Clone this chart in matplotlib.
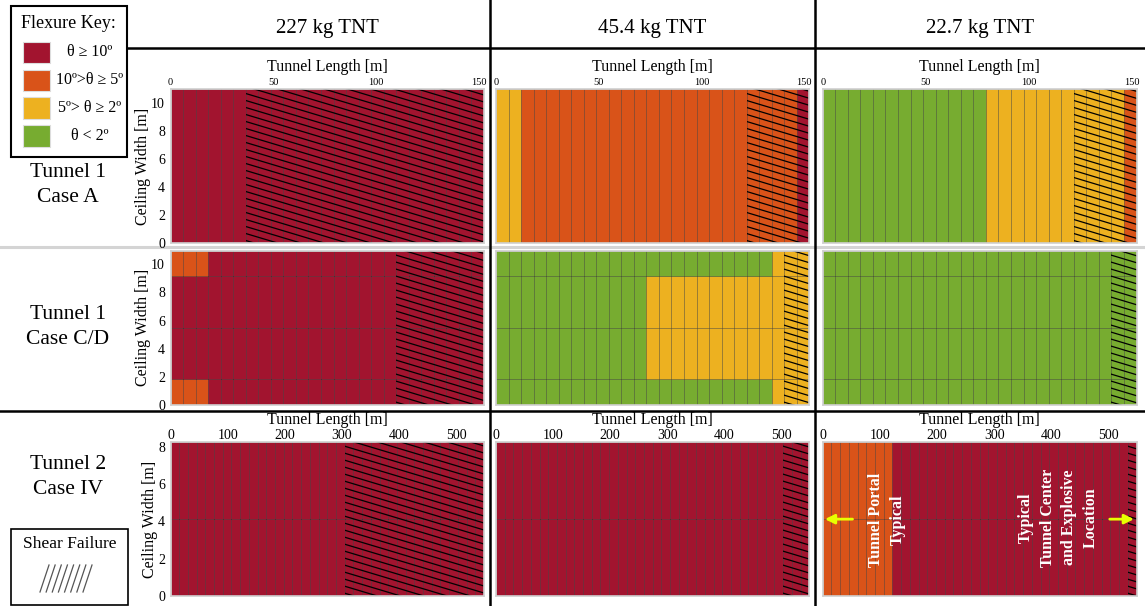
import numpy as np
import matplotlib
matplotlib.use('Agg')
import matplotlib.pyplot as plt
from matplotlib.patches import Rectangle

plt.rcParams['font.family'] = ['Liberation Serif', 'DejaVu Serif']

W, H = 1145, 606

# flexure classes: R θ≥10, O 10>θ≥5, Y 5>θ≥2, G θ<2
colors = {'R': '#A2142F', 'O': '#D95319', 'Y': '#EDB120', 'G': '#77AC30'}
key_codes = ['R', 'O', 'Y', 'G']
key_labels = ['θ ≥ 10º', '10º>θ ≥ 5º', '5º> θ ≥ 2º', 'θ < 2º']

charges = ['227 kg TNT', '45.4 kg TNT', '22.7 kg TNT']
cases = ['Tunnel 1\nCase A', 'Tunnel 1\nCase C/D', 'Tunnel 2\nCase IV']

# segment length along the tunnel [m] (tunnel 1: 25 segments, tunnel 2: 36)
seg_len = [6.096, 6.096, 15.24]
# ceiling strip edges across the width [m]
strip_edges = [[0, 10.97], [0, 1.83, 5.49, 9.14, 10.97], [0, 4.115, 8.23]]

# one string per ceiling strip (bottom -> top), one letter per segment
case_a_227 = ['R' * 25]
case_a_454 = ['YY' + 'O' * 22 + 'R']
case_a_227b = ['G' * 13 + 'Y' * 11 + 'O']

case_cd_227 = ['OOO' + 'R' * 22, 'R' * 25, 'R' * 25, 'OOO' + 'R' * 22]
case_cd_454 = ['G' * 22 + 'YYY', 'G' * 12 + 'Y' * 13, 'G' * 12 + 'Y' * 13, 'G' * 22 + 'YYY']
case_cd_227b = ['G' * 25, 'G' * 25, 'G' * 25, 'G' * 25]

case_iv_227 = ['R' * 36, 'R' * 36]
case_iv_454 = ['R' * 36, 'R' * 36]
case_iv_227b = ['O' * 8 + 'R' * 28, 'O' * 8 + 'R' * 28]

# first segment with shear failure
shear_a = [6, 20, 20]
shear_cd = [18, 23, 23]
shear_iv = [20, 33, 35]

panels = [[case_a_227, case_a_454, case_a_227b],
          [case_cd_227, case_cd_454, case_cd_227b],
          [case_iv_227, case_iv_454, case_iv_227b]]
shears = [shear_a, shear_cd, shear_iv]

x_ticks = [[0, 50, 100, 150], None, [0, 100, 200, 300, 400, 500]]
y_ticks = [[0, 2, 4, 6, 8, 10], [0, 2, 4, 6, 8, 10], [0, 2, 4, 6, 8]]

# panel boxes in pixels: columns (left, right), rows (top, bottom)
col_px = [(170.5, 484), (496, 809.3), (822.7, 1136.5)]
row_px = [(89.3, 243.3), (250.7, 405), (442.3, 596)]
case_y = [185, 327, 477]

fig = plt.figure(figsize=(W / 100, H / 100), dpi=100)

# overlay in pixel coordinates for frame lines, keys and headers
ov = fig.add_axes([0, 0, 1, 1])
ov.set_xlim(0, W)
ov.set_ylim(H, 0)
ov.axis('off')

ov.plot([127, W], [48, 48], color='k', lw=1.8)
ov.plot([0, W], [246.7, 246.7], color='#d4d4d4', lw=2.2)
ov.plot([0, W], [410.5, 410.5], color='k', lw=1.8)
for xv in [490, 815]:
    ov.plot([xv, xv], [0, H], color='k', lw=1.8)

for i, name in enumerate(charges):
    xc = (col_px[i][0] + col_px[i][1]) / 2
    ov.text(xc, 29, name, ha='center', va='center', fontsize=15)

for i, name in enumerate(cases):
    ov.text(68, case_y[i], name, ha='center', va='center', fontsize=15.5, linespacing=1.45)

# flexure key
ov.add_patch(Rectangle((10.5, 6), 116.5, 150.5, facecolor='white', edgecolor='k', lw=1.5))
ov.text(68, 24, 'Flexure Key:', ha='center', va='center', fontsize=13)
for i, (c, lab) in enumerate(zip(key_codes, key_labels)):
    y0 = 41.7 + i * 27.8
    ov.add_patch(Rectangle((22.7, y0), 27.5, 21.5, facecolor=colors[c], edgecolor='#dddddd', lw=0.8))
    ov.text(90, y0 + 10.5, lab, ha='center', va='center', fontsize=11.5)

# shear failure key
ov.add_patch(Rectangle((11, 528.5), 117, 76, facecolor='white', edgecolor='k', lw=1.2))
ov.text(69.5, 544, 'Shear Failure', ha='center', va='center', fontsize=12.5)
for xs in np.linspace(40, 83, 8):
    ov.plot([xs, xs + 9], [592, 565], color='#555555', lw=0.9)


def draw_panel(ax, strips, edges, dx, shear):
    n = len(strips[0])
    for j, strip in enumerate(strips):
        y0, y1 = edges[j], edges[j + 1]
        for i, c in enumerate(strip):
            ax.add_patch(Rectangle((i * dx, y0), dx, y1 - y0, facecolor=colors[c],
                                   edgecolor=(0, 0, 0, 0.3), lw=0.6))
    xmax, ymax = n * dx, edges[-1]
    ax.set_xlim(0, xmax)
    ax.set_ylim(0, ymax)

    # shear failure hatch: shallow lines falling to the right
    x0 = shear * dx
    clip = Rectangle((x0, 0), xmax - x0, ymax, facecolor='none', edgecolor='none')
    ax.add_patch(clip)
    bb = ax.get_position()
    pxx = bb.width * W / xmax
    pxy = bb.height * H / ymax
    m = -0.3 * pxx / pxy
    step = 7.0 / pxy
    drop = -m * (xmax - x0)
    for b in np.arange(step * 0.4, ymax + drop, step):
        ln, = ax.plot([x0, xmax], [b, b + m * (xmax - x0)], color='k', lw=0.9)
        ln.set_clip_path(clip)


for r in range(3):
    for c in range(3):
        l, rr = col_px[c]
        t, b = row_px[r]
        ax = fig.add_axes([l / W, 1 - b / H, (rr - l) / W, (b - t) / H])
        draw_panel(ax, panels[r][c], strip_edges[r], seg_len[r], shears[r][c])
        for s in ax.spines.values():
            s.set_color('#d0d0d0')
            s.set_linewidth(1.2)
        ax.tick_params(length=0)
        if x_ticks[r] is not None:
            ax.xaxis.tick_top()
            ax.xaxis.set_label_position('top')
            ax.set_xticks(x_ticks[r])
            if r == 0:
                ax.tick_params(axis='x', labelsize=7.5, pad=1.5)
                ax.set_xlabel('Tunnel Length [m]', fontsize=11.5, labelpad=5.5)
            else:
                ax.tick_params(axis='x', labelsize=10, pad=0.5)
                ax.set_xlabel('Tunnel Length [m]', fontsize=11.5, labelpad=3)
        else:
            ax.set_xticks([])
        if c == 0:
            ax.set_yticks(y_ticks[r])
            ax.tick_params(axis='y', labelsize=10, pad=4)
            ax.set_ylabel('Ceiling Width [m]', fontsize=11.5, labelpad=0)
        else:
            ax.set_yticks([])

# annotations on tunnel 2, 22.7 kg
ax = fig.axes[-1]
ax.text(112, 4.1, 'Tunnel Portal\nTypical', rotation=90, ha='center', va='center',
        color='white', fontweight='bold', fontsize=11.5, multialignment='center',
        linespacing=1.5)
ax.text(412, 4.2, 'Typical\nTunnel Center\nand Explosive\nLocation', rotation=90,
        ha='center', va='center', color='white', fontweight='bold', fontsize=11.5,
        multialignment='center', linespacing=1.45)
arrow = dict(arrowstyle='-|>', color='#e8ff00', lw=2, mutation_scale=14)
ax.annotate('', xy=(-1, 4.115), xytext=(57, 4.115), arrowprops=arrow, annotation_clip=False)
ax.annotate('', xy=(549, 4.115), xytext=(497, 4.115), arrowprops=arrow, annotation_clip=False)

fig.savefig('out.png', dpi=100)
